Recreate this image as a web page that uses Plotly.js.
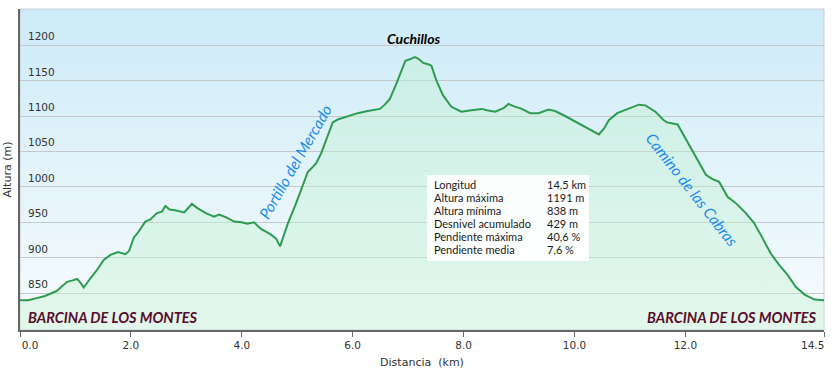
<!DOCTYPE html>
<html>
<head>
<meta charset="utf-8">
<script src="https://cdn.plot.ly/plotly-3.0.1.min.js"></script>
<style>
html,body{margin:0;padding:0;background:#fff;}
#chart{width:833px;height:373px;}
</style>
</head>
<body>
<div id="chart"></div>
<script>
// ---- data (km, m) ----
const distKm = [0, 0.15, 0.3, 0.45, 0.66, 0.85, 0.95, 1.03, 1.08, 1.15, 1.27, 1.4, 1.51, 1.63, 1.77, 1.9, 1.97, 2.05, 2.14, 2.26, 2.35, 2.47, 2.56, 2.62, 2.7, 2.8, 2.96, 3.1, 3.2, 3.35, 3.5, 3.59, 3.72, 3.86, 4.0, 4.1, 4.22, 4.34, 4.52, 4.62, 4.69, 4.76, 4.83, 4.98, 5.1, 5.19, 5.34, 5.43, 5.52, 5.64, 5.73, 5.91, 6.09, 6.27, 6.49, 6.58, 6.67, 6.79, 6.88, 6.95, 7.03, 7.12, 7.18, 7.27, 7.36, 7.42, 7.51, 7.63, 7.78, 7.96, 8.14, 8.33, 8.42, 8.57, 8.72, 8.81, 8.9, 9.05, 9.2, 9.35, 9.53, 9.65, 9.83, 10.01, 10.2, 10.35, 10.44, 10.53, 10.62, 10.77, 10.98, 11.16, 11.28, 11.46, 11.61, 11.67, 11.86, 11.98, 12.1, 12.25, 12.37, 12.49, 12.61, 12.76, 12.91, 13.09, 13.24, 13.39, 13.54, 13.69, 13.84, 13.99, 14.15, 14.33, 14.5];
const altitudeM = [840, 840, 843, 846, 853, 866, 868, 870, 866, 858, 871, 884, 897, 904, 908, 905, 910, 928, 937, 951, 954, 963, 965, 973, 968, 967, 964, 976, 970, 963, 958, 961, 957, 951, 950, 948, 950, 941, 933, 927, 916, 932, 948, 977, 1002, 1021, 1033, 1047, 1066, 1091, 1095, 1100, 1104, 1107, 1110, 1116, 1124, 1146, 1164, 1178, 1180, 1183, 1181, 1175, 1173, 1171, 1150, 1129, 1113, 1106, 1108, 1110, 1108, 1106, 1111, 1117, 1114, 1110, 1104, 1104, 1109, 1107, 1100, 1092, 1084, 1077, 1074, 1082, 1094, 1104, 1110, 1116, 1115, 1106, 1094, 1091, 1088, 1071, 1054, 1033, 1017, 1011, 1007, 986, 977, 963, 949, 928, 906, 890, 876, 859, 848, 841, 840];

const xTickVals = [0, 2, 4, 6, 8, 10, 12, 14.5];
const xTickText = ['0.0', '2.0', '4.0', '6.0', '8.0', '10.0', '12.0', '14.5'];
const yTickVals = [850, 900, 950, 1000, 1050, 1100, 1150, 1200];
const yTickText = ['850', '900', '950', '1000', '1050', '1100', '1150', '1200'];

const statLabels = ['Longitud', 'Altura máxima', 'Altura mínima', 'Desnivel acumulado', 'Pendiente máxima', 'Pendiente media'];
const statValues = ['14,5 km', '1191 m', '838 m', '429 m', '40,6 %', '7,6 %'];

// ---- layout helpers (pixel -> paper) ----
const W = 833, H = 373, ML = 20, MR = 9, MT = 9, MB = 43;
const PW = W - ML - MR, PH = H - MT - MB;
const px = v => (v - ML) / PW;
const py = v => (H - MB - v) / PH;

const bgSvg = "<svg xmlns='http://www.w3.org/2000/svg' width='10' height='10' preserveAspectRatio='none'>" +
  "<defs><linearGradient id='g' x1='0' y1='0' x2='0' y2='1'>" +
  "<stop offset='0' stop-color='#cdebf8'/><stop offset='1' stop-color='#f8fcfe'/>" +
  "</linearGradient></defs><rect width='10' height='10' fill='url(#g)'/></svg>";
const bgUri = 'data:image/svg+xml;charset=utf-8,' + encodeURIComponent(bgSvg);

const trace = {
  x: distKm, y: altitudeM, type: 'scatter', mode: 'lines',
  line: {color: '#2e9c50', width: 2},
  fill: 'tozeroy',
  fillgradient: {type: 'vertical', start: 798, stop: 1190,
    colorscale: [[0, 'rgba(200,242,212,0.45)'], [1, 'rgba(190,240,205,0.4)']]},
  hoverinfo: 'skip'
};

// end labels sit inward of their ticks, as in the reference:
// first label padded on the left, last label drawn as a right-anchored annotation
const pad = '\u00a0\u00a0\u00a0\u00a0\u00a0\u00a0';
const lastIdx = xTickText.length - 1;
const xTickShown = xTickText.map((t, i) => i === 0 ? pad + t : (i === lastIdx ? '' : t));

const axFont = '"DejaVu Sans", Verdana, sans-serif';
const annotations = [];
const uiFont = 'Lato, "Open Sans", sans-serif';
annotations.push({text: xTickText[lastIdx], xref: 'x', yref: 'paper', x: xTickVals[lastIdx], y: py(345),
  xanchor: 'right', yanchor: 'middle', xshift: 2, showarrow: false,
  font: {family: axFont, size: 10.5, color: '#333'}});
// y tick labels (inside plot, above gridlines), placed with the y scale
yTickVals.forEach((v, i) => {
  annotations.push({text: yTickText[i], xref: 'paper', yref: 'y', x: px(26), y: v, yshift: 9,
    xanchor: 'left', yanchor: 'middle', showarrow: false,
    font: {family: axFont, size: 10.5, color: '#333'}});
});
annotations.push({text: '<b><i>Cuchillos</i></b>', xref: 'paper', yref: 'paper', x: px(413), y: py(38),
  yanchor: 'middle', showarrow: false, font: {family: uiFont, size: 14, color: '#000'}});
annotations.push({text: '<b><i>BARCINA DE LOS MONTES</i></b>', xref: 'paper', yref: 'paper', x: px(26), y: py(317),
  xanchor: 'left', yanchor: 'middle', showarrow: false, font: {family: uiFont, size: 14.5, color: '#5a0c2c'}});
annotations.push({text: '<b><i>BARCINA DE LOS MONTES</i></b>', xref: 'paper', yref: 'paper', x: px(819), y: py(317),
  xanchor: 'right', yanchor: 'middle', showarrow: false, font: {family: uiFont, size: 14.5, color: '#5a0c2c'}});
annotations.push({text: '<i>Portillo del Mercado</i>', xref: 'paper', yref: 'paper', x: px(295), y: py(162),
  textangle: -60, showarrow: false, font: {family: uiFont, size: 15.5, color: '#1a8cf0'}});
annotations.push({text: '<i>Camino de las Cabras</i>', xref: 'paper', yref: 'paper', x: px(744), y: py(189),
  textangle: 52, showarrow: false, font: {family: uiFont, size: 15.5, color: '#1a8cf0'}});
statLabels.forEach((s, i) => {
  const yy = 184.7 + i * 12.9;
  annotations.push({text: s, xref: 'paper', yref: 'paper', x: px(432), y: py(yy), xanchor: 'left', yanchor: 'middle',
    showarrow: false, font: {family: uiFont, size: 11, color: '#1a1a1a'}});
  annotations.push({text: statValues[i], xref: 'paper', yref: 'paper', x: px(545), y: py(yy), xanchor: 'left', yanchor: 'middle',
    showarrow: false, font: {family: uiFont, size: 11, color: '#1a1a1a'}});
});

const layout = {
  width: W, height: H,
  margin: {l: ML, r: MR, t: MT, b: MB, pad: 0},
  paper_bgcolor: '#ffffff',
  plot_bgcolor: 'rgba(0,0,0,0)',
  showlegend: false,
  images: [{source: bgUri, xref: 'paper', yref: 'paper', x: 0, y: 1, sizex: 1, sizey: 1,
    xanchor: 'left', yanchor: 'top', sizing: 'stretch', layer: 'below'}],
  xaxis: {
    range: [0, 14.5], tickvals: xTickVals, ticktext: xTickShown, ticklabeloverflow: 'allow',
    showgrid: false, zeroline: false, showline: true, linecolor: '#666', linewidth: 1.5,
    ticks: 'outside', ticklen: 5, tickcolor: '#666', tickwidth: 1,
    tickfont: {family: axFont, size: 10.5, color: '#333'},
    title: {text: 'Distancia \u00a0(km)', standoff: 8,
      font: {family: axFont, size: 11, color: '#333'}},
    fixedrange: true
  },
  yaxis: {
    range: [798, 1251], tickvals: yTickVals, showticklabels: false,
    showgrid: true, gridcolor: '#c3c8cb', gridwidth: 1,
    zeroline: false, showline: true, linecolor: '#666', linewidth: 2,
    ticks: '',
    title: {text: 'Altura (m)', standoff: 4,
      font: {family: axFont, size: 11, color: '#333'}},
    fixedrange: true
  },
  shapes: [
    {type: 'rect', xref: 'paper', yref: 'paper', x0: 0, x1: 1, y0: 0, y1: 1,
      line: {color: '#c9cdd0', width: 1}, fillcolor: 'rgba(0,0,0,0)', layer: 'below'},
    {type: 'rect', xref: 'paper', yref: 'paper', x0: px(427), x1: px(589), y0: py(261), y1: py(175),
      line: {width: 0}, fillcolor: 'rgba(255,255,255,0.92)', layer: 'above'}
  ],
  annotations: annotations
};

Plotly.newPlot('chart', [trace], layout, {displayModeBar: false, staticPlot: true});
</script>
</body>
</html>
